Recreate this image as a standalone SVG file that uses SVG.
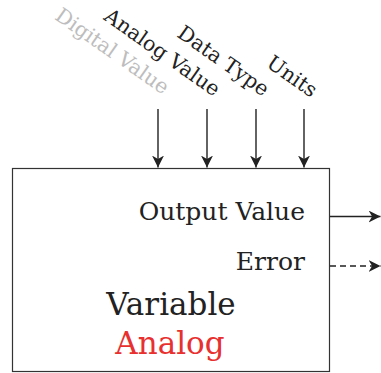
<svg xmlns="http://www.w3.org/2000/svg" width="381" height="373" viewBox="0 0 381 373">
<style>
text{font-family:"DejaVu Serif","Liberation Serif",serif;fill:#222}
.lbl{font-size:20.5px}
.conn{stroke:#222;stroke-width:1.4;fill:none}
</style>
<defs>
<marker id="ah" viewBox="0 0 10 10" refX="10" refY="5" markerWidth="12" markerHeight="12" markerUnits="userSpaceOnUse" orient="auto">
<path d="M0,0 L10,5 L0,10 L3,5 Z" fill="#222"/>
</marker>
</defs>
<rect width="381" height="373" fill="#fff"/>
<g id="connectors">
<line class="conn" x1="158" y1="109" x2="158" y2="167.5" marker-end="url(#ah)"/>
<line class="conn" x1="207" y1="109" x2="207" y2="167.5" marker-end="url(#ah)"/>
<line class="conn" x1="256" y1="109" x2="256" y2="167.5" marker-end="url(#ah)"/>
<line class="conn" x1="304" y1="109" x2="304" y2="167.5" marker-end="url(#ah)"/>
<line class="conn" x1="330" y1="216.5" x2="380.5" y2="216.5" marker-end="url(#ah)"/>
<line class="conn" x1="330" y1="266" x2="380.5" y2="266" stroke-dasharray="6,4" marker-end="url(#ah)"/>
</g>
<g id="inputs">
<text class="lbl" transform="translate(163,95) rotate(35)" text-anchor="end" style="fill:#bdbdbd">Digital Value</text>
<text class="lbl" transform="translate(214,97) rotate(35)" text-anchor="end">Analog Value</text>
<text class="lbl" transform="translate(263,97) rotate(35)" text-anchor="end">Data Type</text>
<text class="lbl" transform="translate(311,98) rotate(35)" text-anchor="end">Units</text>
</g>
<g id="variable">
<rect x="12.5" y="168.5" width="317" height="203" fill="#fff" stroke="#333" stroke-width="1.2"/>
<text x="305" y="220" text-anchor="end" font-size="25">Output Value</text>
<text x="305" y="270" text-anchor="end" font-size="25">Error</text>
<text x="171" y="315" text-anchor="middle" font-size="31">Variable</text>
<text x="170" y="354" text-anchor="middle" font-size="31" style="fill:#e8302f">Analog</text>
</g>
</svg>
